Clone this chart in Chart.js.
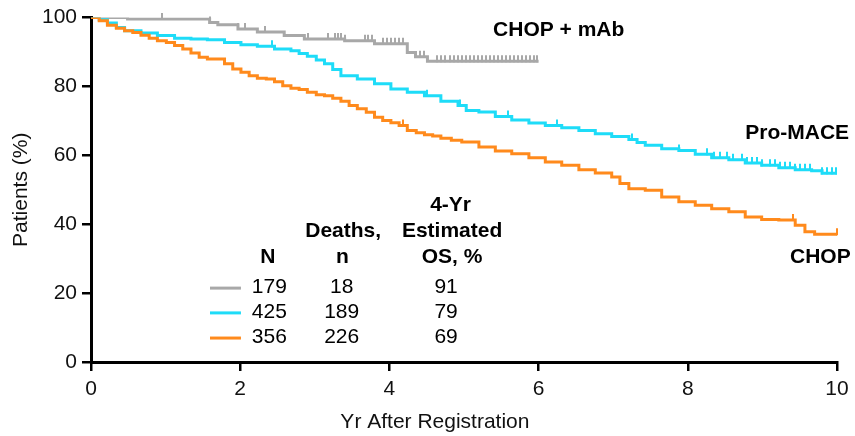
<!DOCTYPE html>
<html><head><meta charset="utf-8">
<script src="https://cdn.jsdelivr.net/npm/chart.js@4.4.1/dist/chart.umd.min.js"></script>
<style>html,body{margin:0;padding:0;background:#fff;}#wrap{width:855px;height:436px;}</style>
</head><body><div id="wrap"><canvas id="c" width="855" height="436"></canvas></div>
<script>
// ---------- data ----------
const xTicks = [0, 2, 4, 6, 8, 10];
const yTicks = [0, 20, 40, 60, 80, 100];
const seriesNames = ['CHOP + mAb', 'Pro-MACE', 'CHOP'];
const seriesColors = ['#A8A8A8', '#1EDCF8', '#FF8A1C'];

const mabTime = [0, 0.49, 1.59, 1.7, 1.97, 2.23, 2.59, 2.86, 3.4, 3.8, 4.24, 4.35, 4.51, 6.0];
const mabSurv = [100, 99.6, 98.6, 97.9, 96.7, 95.8, 94.8, 93.8, 93.3, 92.4, 89.9, 88.6, 87.3, 87.3];
const mabCensor = [0.95, 1.6, 1.97, 2.06, 2.33, 2.91, 3.18, 3.27, 3.31, 3.35, 3.4, 3.67, 3.71, 3.77, 3.91, 3.97, 4.02, 4.08, 4.13, 4.18, 4.41, 4.46, 4.64, 4.69, 4.75, 4.81, 4.87, 4.92, 4.97, 5.03, 5.08, 5.13, 5.19, 5.24, 5.29, 5.35, 5.40, 5.46, 5.51, 5.56, 5.62, 5.67, 5.72, 5.78, 5.83, 5.88, 5.94, 5.98];

const proTime = [0, 0.11, 0.22, 0.34, 0.45, 0.67, 0.89, 1.12, 1.34, 1.56, 1.79, 2.01, 2.23, 2.46, 2.68, 2.79, 2.90, 3.02, 3.13, 3.24, 3.35, 3.57, 3.80, 4.02, 4.24, 4.47, 4.69, 4.92, 5.03, 5.2, 5.42, 5.64, 5.87, 6.09, 6.31, 6.54, 6.76, 6.98, 7.21, 7.32, 7.43, 7.65, 7.88, 8.1, 8.32, 8.55, 8.77, 8.99, 9.22, 9.44, 9.66, 9.8, 10];
const proSurv = [100, 99.4, 98.4, 97.1, 96.2, 95.5, 94.8, 94.0, 93.8, 93.6, 92.8, 92.1, 91.7, 90.9, 90.4, 89.6, 88.8, 87.7, 86.6, 84.9, 83.1, 82.2, 80.8, 79.3, 78.3, 77.3, 75.7, 74.5, 73.0, 72.6, 71.3, 70.3, 69.4, 68.7, 68.0, 67.2, 66.3, 65.5, 64.6, 63.7, 62.9, 61.9, 61.4, 60.3, 59.3, 58.7, 57.8, 57.1, 56.4, 55.8, 55.5, 54.8, 54.8];
const proCensor = [2.43, 4.5, 4.95, 5.59, 6.25, 7.25, 7.88, 8.26, 8.35, 8.43, 8.53, 8.61, 8.73, 8.79, 8.86, 8.93, 8.99, 9.1, 9.17, 9.24, 9.3, 9.37, 9.44, 9.5, 9.57, 9.64, 9.8, 9.87, 9.93, 9.99];

const chopTime = [0, 0.11, 0.22, 0.34, 0.45, 0.56, 0.67, 0.78, 0.89, 1.01, 1.12, 1.23, 1.34, 1.45, 1.56, 1.79, 1.90, 2.01, 2.12, 2.23, 2.35, 2.46, 2.57, 2.68, 2.79, 2.90, 3.02, 3.13, 3.24, 3.35, 3.46, 3.57, 3.69, 3.80, 3.91, 4.02, 4.13, 4.24, 4.36, 4.47, 4.58, 4.69, 4.83, 4.97, 5.2, 5.42, 5.64, 5.87, 6.09, 6.31, 6.54, 6.76, 6.98, 7.09, 7.21, 7.43, 7.65, 7.88, 8.1, 8.32, 8.55, 8.77, 8.99, 9.22, 9.44, 9.57, 9.7, 10];
const chopSurv = [100, 99.1, 97.8, 96.9, 96.2, 95.7, 94.9, 94.0, 93.3, 92.8, 91.9, 90.9, 89.7, 88.5, 88.0, 86.6, 85.1, 84.1, 83.1, 82.4, 82.2, 81.4, 80.2, 79.5, 79.1, 78.3, 77.6, 77.3, 76.6, 75.7, 74.5, 73.5, 72.5, 71.1, 70.1, 69.5, 68.7, 67.2, 66.6, 66.0, 65.6, 65.0, 64.4, 63.9, 62.4, 61.3, 60.5, 59.3, 58.1, 57.1, 55.8, 54.9, 53.7, 51.8, 50.3, 49.9, 47.9, 46.5, 45.5, 44.5, 43.6, 42.1, 41.4, 41.2, 39.7, 37.8, 37.1, 37.1];
const chopCensor = [4.18, 9.41, 10.0];

// summary table
const tableHeaderN = ['N'];
const tableHeaderDeaths = ['Deaths,', 'n'];
const tableHeaderOS = ['4-Yr', 'Estimated', 'OS, %'];
const tableN = ['179', '425', '356'];
const tableDeaths = ['18', '189', '226'];
const tableOS = ['91', '79', '69'];

// ---------- build ----------
const times = [mabTime, proTime, chopTime];
const survs = [mabSurv, proSurv, chopSurv];
const censors = [mabCensor, proCensor, chopCensor];

const datasets = seriesNames.map((name, i) => ({
  label: name,
  data: times[i].map((t, k) => ({x: t, y: survs[i][k]})),
  borderColor: seriesColors[i],
  backgroundColor: seriesColors[i],
  borderWidth: 3,
  stepped: 'before',
  pointRadius: 0,
  fill: false,
  order: 3 - i
}));

function stepValue(i, t) {
  const T = times[i], S = survs[i];
  let v = S[0];
  for (let k = 0; k < T.length; k++) { if (T[k] <= t + 1e-9) v = S[k]; else break; }
  return v;
}

const FONT = '"Liberation Sans", Arial, sans-serif';
const FS = 21;

const overlay = {
  id: 'overlay',
  afterDatasetsDraw(chart) {
    const ctx = chart.ctx, xs = chart.scales.x, ys = chart.scales.y;
    ctx.save();
    ctx.lineWidth = 2;
    for (let i = censors.length - 1; i >= 0; i--) {
      ctx.strokeStyle = seriesColors[i];
      censors[i].forEach(t => {
        const px = Math.round(xs.getPixelForValue(t));
        const py = ys.getPixelForValue(stepValue(i, t));
        ctx.beginPath();
        ctx.moveTo(px, py + 1);
        ctx.lineTo(px, py - 6);
        ctx.stroke();
      });
    }
    ctx.restore();
  },
  afterDraw(chart) {
    const ctx = chart.ctx, xs = chart.scales.x, ys = chart.scales.y, ca = chart.chartArea;
    const X = v => xs.getPixelForValue(v), Y = v => ys.getPixelForValue(v);
    ctx.save();
    ctx.fillStyle = '#000';
    ctx.textBaseline = 'middle';
    // series labels
    ctx.font = 'bold ' + FS + 'px ' + FONT;
    ctx.textAlign = 'left';
    ctx.fillText(seriesNames[0], X(5.39), Y(96.2));
    ctx.fillText(seriesNames[1], X(8.77), Y(66.5));
    ctx.fillText(seriesNames[2], X(9.37), Y(30.5));
    // table headers
    ctx.textAlign = 'center';
    ctx.fillText(tableHeaderN[0], X(2.37), Y(30.3));
    ctx.fillText(tableHeaderDeaths[0], X(3.38), Y(38.0));
    ctx.fillText(tableHeaderDeaths[1], X(3.37), Y(30.3));
    ctx.fillText(tableHeaderOS[0], X(4.82), Y(45.6));
    ctx.fillText(tableHeaderOS[1], X(4.84), Y(38.0));
    ctx.fillText(tableHeaderOS[2], X(4.84), Y(30.3));
    // table rows
    ctx.font = FS + 'px ' + FONT;
    const rowY = [21.6, 14.4, 7.1];
    for (let r = 0; r < 3; r++) {
      ctx.fillText(tableN[r], X(2.39), Y(rowY[r]));
      ctx.fillText(tableDeaths[r], X(3.36), Y(rowY[r]));
      ctx.fillText(tableOS[r], X(4.76), Y(rowY[r]));
      ctx.strokeStyle = seriesColors[r];
      ctx.lineWidth = 3;
      ctx.beginPath();
      ctx.moveTo(X(1.595), Y(rowY[r]) + 0.5);
      ctx.lineTo(X(2.01), Y(rowY[r]) + 0.5);
      ctx.stroke();
    }
    // axis titles
    ctx.font = FS + 'px ' + FONT;
    ctx.fillStyle = '#111';
    ctx.textAlign = 'center';
    ctx.fillText('Yr After Registration', X(4.61), ca.bottom + 60);
    ctx.translate(21, (ca.top + ca.bottom) / 2);
    ctx.rotate(-Math.PI / 2);
    ctx.fillText('Patients (%)', 0, 0);
    ctx.restore();
  }
};

new Chart(document.getElementById('c'), {
  type: 'line',
  data: {datasets},
  plugins: [overlay],
  options: {
    responsive: false,
    animation: false,
    events: [],
    layout: {padding: {top: 17, right: 18, left: 0, bottom: 0}},
    plugins: {legend: {display: false}, tooltip: {enabled: false}},
    scales: {
      x: {
        type: 'linear', min: 0, max: 10,
        afterBuildTicks: s => { s.ticks = xTicks.map(v => ({value: v})); },
        afterFit: s => { s.height = 74; },
        grid: {display: true, drawOnChartArea: false, drawTicks: true, tickLength: 9, color: '#000', lineWidth: 2.5},
        border: {display: true, color: '#000', width: 3},
        ticks: {color: '#111', font: {family: FONT, size: FS}, padding: 6, maxRotation: 0}
      },
      y: {
        type: 'linear', min: 0, max: 100,
        afterBuildTicks: s => { s.ticks = yTicks.map(v => ({value: v})); },
        afterFit: s => { s.width = 91; },
        grid: {display: true, drawOnChartArea: false, drawTicks: true, tickLength: 9, color: '#000', lineWidth: 2.5},
        border: {display: true, color: '#000', width: 3},
        ticks: {color: '#111', font: {family: FONT, size: FS}, padding: 5}
      }
    }
  }
});
</script>
</body></html>
